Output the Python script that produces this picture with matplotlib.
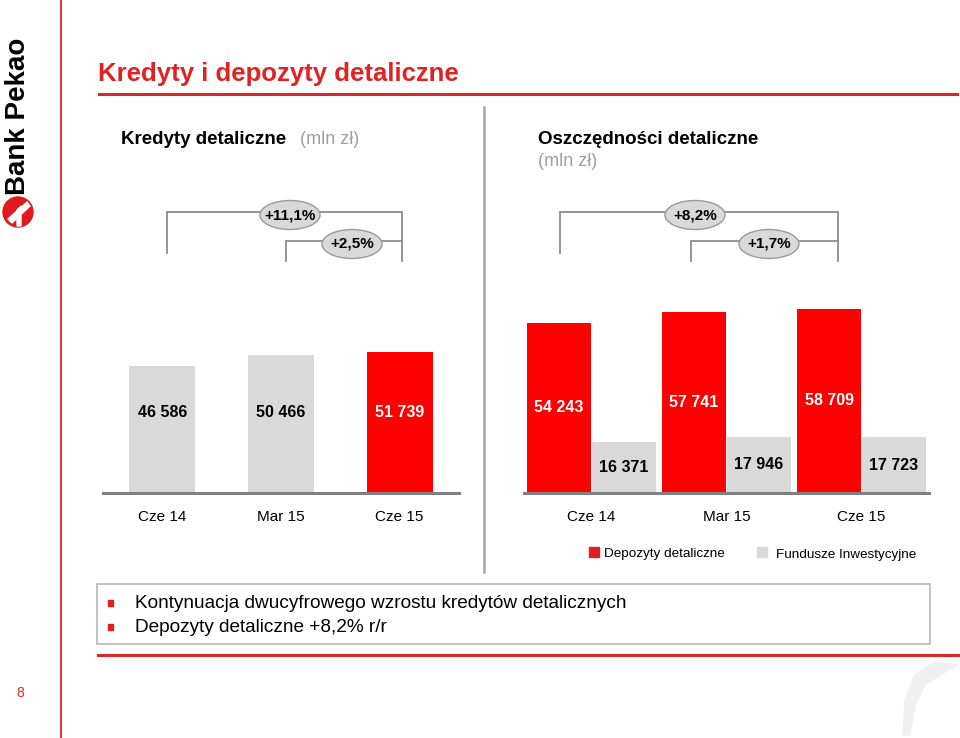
import matplotlib
matplotlib.use("Agg")
import matplotlib.pyplot as plt
from matplotlib.patches import Ellipse, Rectangle, Circle, Polygon
from matplotlib.lines import Line2D
import matplotlib.transforms as mtransforms

plt.rcParams['font.family'] = ['Liberation Sans', 'DejaVu Sans']

# ---------------- data ----------------
periods = ["Cze 14", "Mar 15", "Cze 15"]
loans = [46586, 50466, 51739]
deposits = [54243, 57741, 58709]
funds = [16371, 17946, 17723]
series_names = ["Depozyty detaliczne", "Fundusze Inwestycyjne"]
loan_growth = ["+11,1%", "+2,5%"]
savings_growth = ["+8,2%", "+1,7%"]
bullets = ["Kontynuacja dwucyfrowego wzrostu kredytów detalicznych",
           "Depozyty detaliczne +8,2% r/r"]

RED = "#ff0000"
GRAY = "#d9d9d9"
LINE_GRAY = "#8c8c8c"
DARK_RED = "#d42a2a"

W, H = 960, 738
fig = plt.figure(figsize=(W / 100, H / 100), dpi=100)
fig.patch.set_facecolor("white")

# overlay axes in pixel coordinates
ov = fig.add_axes([0, 0, 1, 1])
ov.set_xlim(0, W)
ov.set_ylim(H, 0)
ov.axis("off")

def fmt(v):
    return f"{v:,}".replace(",", " ")

# left vertical red rule
ov.plot([61, 61], [0, H], color="#cc4444", lw=1.5)
# title and rules
ov.text(98, 74, "Kredyty i depozyty detaliczne", color="#e02222", fontsize=18.5,
        weight="bold", ha="left", va="center")
ov.plot([99, 957], [94, 94], color="#d42a2a", lw=2.2)
ov.plot([98, 960], [655, 655], color="#d42a2a", lw=2.2)
ov.text(20, 693, "8", color="#d42a2a", fontsize=10, ha="center", va="center")

# logo
ov.text(18, 116, "Bank Pekao", rotation=90, fontsize=20, weight="bold",
        color="black", ha="center", va="center")
ov.add_patch(Circle((18, 212), 15, color="#e01b1b"))
ov.add_patch(Polygon([(8, 219), (27, 202), (30, 206), (12, 223)], closed=True,
                     color="white"))
ov.add_patch(Polygon([(17, 210), (21, 206), (21, 226), (17, 226)], closed=True,
                     color="white"))

# divider
ov.plot([484, 484], [107, 572], color="#a6a6a6", lw=1.8)

# subtitles
t = ov.text(121, 139, "Kredyty detaliczne", fontsize=13.5, weight="bold",
            ha="left", va="center")
ov.text(300, 139, "(mln zł)", fontsize=13, color="#a0a0a0", ha="left", va="center")
ov.text(538, 139, "Oszczędności detaliczne", fontsize=13.5, weight="bold",
        ha="left", va="center")
ov.text(538, 162, "(mln zł)", fontsize=13, color="#a0a0a0", ha="left", va="center")

# growth brackets
def bracket(x_left, x_right, y_top, y_left_end, y_right_end, label, cx):
    ov.plot([x_left, x_left, x_right, x_right],
            [y_left_end, y_top, y_top, y_right_end], color=LINE_GRAY, lw=1.3,
            solid_joinstyle="miter", zorder=2)
    ov.add_patch(Ellipse((cx, y_top + 3), 60, 29, facecolor="#d9d9d9",
                         edgecolor="#9a9a9a", lw=1.0, zorder=3))
    ov.text(cx, y_top + 3, label, fontsize=11, weight="bold", ha="center",
            va="center", zorder=4)

bracket(167, 402, 212, 253, 261, loan_growth[0], 290)
bracket(286, 402, 241, 261, 241, loan_growth[1], 352)
bracket(560, 838, 212, 253, 261, savings_growth[0], 695)
bracket(691, 838, 241, 261, 241, savings_growth[1], 769)

# ---------------- left chart ----------------
axL = fig.add_axes([103 / W, 1 - 493 / H, 356 / W, 193 / H])
axL.patch.set_alpha(0)
xs = list(range(len(periods)))
colorsL = [GRAY, GRAY, RED]
axL.bar(xs, loans, width=0.557, color=colorsL, zorder=2)
axL.set_xlim(-0.5, 2.5)
axL.set_ylim(0, 193 * 367)
tr = mtransforms.blended_transform_factory(axL.transData, axL.transAxes)
for x, v, c in zip(xs, loans, colorsL):
    axL.text(x, 0.415, fmt(v), transform=tr, ha="center", va="center",
             fontsize=11.5, weight="bold", color="white" if c == RED else "black")

# ---------------- right chart ----------------
axR = fig.add_axes([524 / W, 1 - 493 / H, 405 / W, 193 / H])
axR.patch.set_alpha(0)
off, bw = 0.24, 0.474
axR.bar([x - off for x in xs], deposits, width=bw, color=RED, zorder=2)
axR.bar([x + off for x in xs], funds, width=bw, color=GRAY, zorder=2)
axR.set_xlim(-0.5, 2.5)
axR.set_ylim(0, 193 * 319)
for x, v in zip(xs, deposits):
    axR.text(x - off, v / 2, fmt(v), ha="center", va="center", fontsize=11.5,
             weight="bold", color="white")
for x, v in zip(xs, funds):
    axR.text(x + off, v / 2, fmt(v), ha="center", va="center", fontsize=11.5,
             weight="bold", color="black")

for ax in (axL, axR):
    for s in ("top", "right", "left"):
        ax.spines[s].set_visible(False)
    ax.spines["bottom"].set_color("#808080")
    ax.spines["bottom"].set_linewidth(2.2)
    ax.set_yticks([])
    ax.set_xticks(xs)
    ax.set_xticklabels(periods, fontsize=11)
    ax.tick_params(axis="x", length=0, pad=12)

# legend (manual)
ov.add_patch(Rectangle((589, 547), 10, 10, color="#e02020"))
ov.text(604, 554, series_names[0], fontsize=9.7, ha="left", va="center")
ov.add_patch(Rectangle((757, 547), 10, 10, color=GRAY))
ov.text(776, 555, series_names[1], fontsize=9.7, ha="left", va="center")

# bottom text box
ov.add_patch(Rectangle((97, 584), 833, 60, facecolor="white",
                       edgecolor="#b8b8b8", lw=1.2))
for i, b in enumerate(bullets):
    y = 603 + i * 24
    ov.add_patch(Rectangle((108, y - 3), 5, 6, color="#e02020"))
    ov.text(135, y, b, fontsize=13.7, ha="left", va="center")

# watermark (faint)
ov.add_patch(Polygon([(905, 700), (915, 675), (935, 662), (958, 665), (945, 672),
                      (925, 685), (915, 705), (910, 735), (903, 735)],
                     closed=True, color="#f0f0f0", zorder=0))

fig.savefig("out.png", dpi=100)
